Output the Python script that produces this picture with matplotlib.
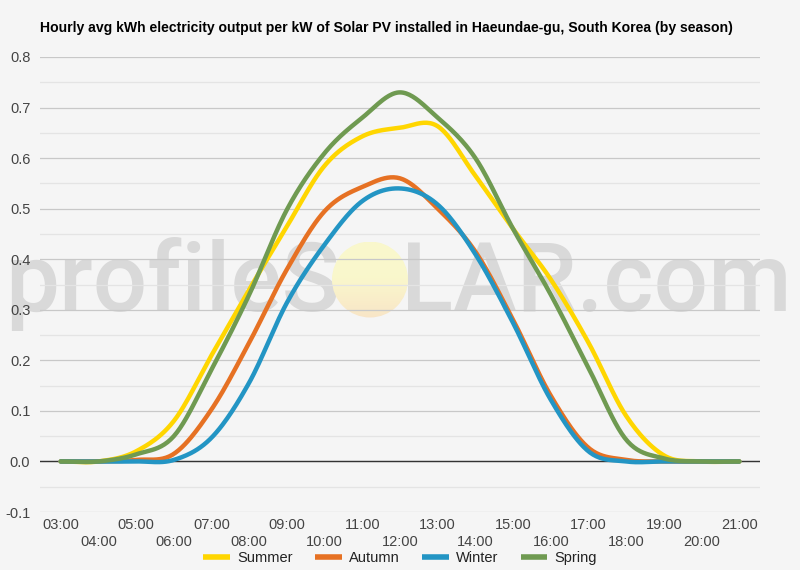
import numpy as np
import matplotlib
matplotlib.use("Agg")
import matplotlib.pyplot as plt
from matplotlib.patches import Ellipse
from matplotlib.lines import Line2D

plt.rcParams['font.family'] = ['Liberation Sans', 'DejaVu Sans']

hours = list(range(3, 22))
hour_labels = [f"{h:02d}:00" for h in hours]

summer = [0, 0, 0.02, 0.08, 0.21, 0.34, 0.465, 0.585, 0.643, 0.66, 0.663, 0.565, 0.46, 0.36, 0.235, 0.09, 0.012, 0, 0]
autumn = [0, 0, 0.003, 0.015, 0.103, 0.235, 0.38, 0.495, 0.543, 0.56, 0.50, 0.415, 0.28, 0.13, 0.027, 0.003, 0, 0, 0]
winter = [0, 0, 0, 0.003, 0.047, 0.156, 0.314, 0.429, 0.515, 0.54, 0.508, 0.41, 0.274, 0.122, 0.02, 0, 0, 0, 0]
spring = [0, 0, 0.014, 0.05, 0.182, 0.33, 0.498, 0.61, 0.68, 0.73, 0.68, 0.60, 0.46, 0.33, 0.185, 0.043, 0.006, 0, 0]

series = [("Summer", summer, "#ffd600"),
          ("Autumn", autumn, "#e67123"),
          ("Winter", winter, "#2395c4"),
          ("Spring", spring, "#6f9a51")]

title = "Hourly avg kWh electricity output per kW of Solar PV installed in Haeundae-gu, South Korea (by season)"


def smooth(x, y, n=24):
    x = np.asarray(x, float)
    y = np.asarray(y, float)
    m = np.zeros_like(y)
    m[1:-1] = (y[2:] - y[:-2]) / (x[2:] - x[:-2])
    m[0] = (y[1] - y[0]) / (x[1] - x[0])
    m[-1] = (y[-1] - y[-2]) / (x[-1] - x[-2])
    xs, ys = [], []
    for i in range(len(x) - 1):
        h = x[i + 1] - x[i]
        t = np.linspace(0, 1, n, endpoint=False)
        h00 = 2 * t**3 - 3 * t**2 + 1
        h10 = t**3 - 2 * t**2 + t
        h01 = -2 * t**3 + 3 * t**2
        h11 = t**3 - t**2
        xs.append(x[i] + t * h)
        ys.append(h00 * y[i] + h10 * h * m[i] + h01 * y[i + 1] + h11 * h * m[i + 1])
    xs.append([x[-1]])
    ys.append([y[-1]])
    return np.concatenate(xs), np.concatenate(ys)


W, H = 800, 570
fig = plt.figure(figsize=(8, 5.7), dpi=100, facecolor="#f5f5f5")
ax = fig.add_axes([40 / W, 1 - 512 / H, 720 / W, (512 - 57) / H])
ax.set_facecolor("#f5f5f5")

# grid
yt = np.round(np.arange(-0.1, 0.81, 0.1), 2)
ax.set_yticks(yt)
ax.set_yticks(np.round(np.arange(-0.05, 0.8, 0.1), 3), minor=True)
ax.set_yticklabels([f"{v:.1f}" for v in yt])
ax.grid(axis="y", which="major", color="#c8c8c8", lw=0.9)
ax.grid(axis="y", which="minor", color="#e4e4e4", lw=0.9)
ax.set_axisbelow(True)
ax.axhline(0, color="#333333", lw=1.0, zorder=1.2)

for s in ax.spines.values():
    s.set_visible(False)

# x ticks: odd hours on first row, even hours on second row
odd = [h for h in hours if (h - 3) % 2 == 0]
even = [h for h in hours if (h - 3) % 2 == 1]
ax.set_xticks(odd)
ax.set_xticklabels([hour_labels[hours.index(h)] for h in odd])
ax.set_xticks(even, minor=True)
ax.set_xticklabels([hour_labels[hours.index(h)] for h in even], minor=True)
ax.tick_params(axis="x", which="major", length=0, pad=4, labelsize=10.5, colors="#444444")
ax.tick_params(axis="x", which="minor", length=0, pad=16.5, labelsize=10.5, colors="#444444")
ax.tick_params(axis="y", which="both", length=0, pad=7, labelsize=10.5, colors="#444444")

# watermark
wm_color = "#d9d9d9"
wm_font = dict(family=["Roboto", "Liberation Sans"], fontweight="medium", fontsize=69)
ax.text(5 / W, 1 - 311 / H, "profileS", transform=fig.transFigure, color=wm_color,
        ha="left", va="baseline", zorder=0.2, clip_on=False, **wm_font)
ax.text(401 / W, 1 - 311 / H, "LAR.com", transform=fig.transFigure, color=wm_color,
        ha="left", va="baseline", zorder=0.2, clip_on=False, **wm_font)
cx, cy, r = 370 / W, 1 - 279.5 / H, 38
ell = Ellipse((cx, cy), 2 * r / W, 2 * r / H, transform=fig.transFigure, facecolor="none", edgecolor="none")
ax.add_patch(ell)
grad = np.clip((np.linspace(0, 1, 100) - 0.45) / 0.55, 0, 1)[:, None] * np.ones((1, 10))
c_top = np.array([0.980, 0.972, 0.800])
c_bot = np.array([0.975, 0.900, 0.780])
img = c_top[None, None, :] * (1 - grad[..., None]) + c_bot[None, None, :] * grad[..., None]
im = ax.imshow(img, extent=[cx - r / W, cx + r / W, cy - r / H, cy + r / H],
               transform=fig.transFigure, aspect="auto", zorder=0.3, origin="upper")
im.set_clip_path(ell)

for name, vals, col in series:
    xs, ys = smooth(hours, vals)
    ax.plot(xs, ys, color=col, lw=3.2, solid_capstyle="round", zorder=3)

ax.set_xlim(2.45, 21.55)
ax.set_ylim(-0.1, 0.8)

fig.text(40 / W, 1 - 28 / H, title, fontsize=10.1, fontweight="bold", color="#000000",
         ha="left", va="center")

handles = [Line2D([0], [0], color=c, lw=4, solid_capstyle="butt") for _, _, c in series]
fig.legend(handles, [n for n, _, _ in series], loc="center", bbox_to_anchor=(0.5, 1 - 558 / H),
           ncol=4, frameon=False, fontsize=10.5, handlelength=1.85, handletextpad=0.45,
           columnspacing=1.55, labelcolor="#222222")

fig.savefig("out.png", dpi=100, facecolor=fig.get_facecolor())
